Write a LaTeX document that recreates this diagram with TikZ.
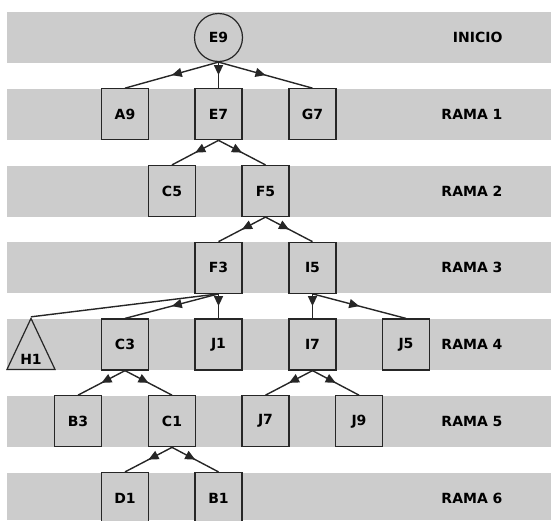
\documentclass[tikz,border=0pt]{standalone}
\usepackage{fontspec}
\setmainfont{DejaVu Sans}
\usepackage{xcolor}
\usetikzlibrary{shapes.geometric}
\usetikzlibrary{arrows.meta, decorations.markings}

\definecolor{banda}{HTML}{CCCCCC}
\definecolor{borde}{HTML}{262626}

\begin{document}
\begin{tikzpicture} [
       x=1pt, y=-1pt,
       font=\fontsize{14}{16}\selectfont\bfseries,
       estado/.style={rectangle, draw=borde, line width=1.2pt, fill=banda,
               minimum width=47pt, minimum height=51pt, inner sep=0pt},
       inicio/.style={circle, draw=borde, line width=1.2pt, fill=banda,
               minimum size=48pt, inner sep=0pt},
       hoja/.style={isosceles triangle, shape border rotate=90,
               isosceles triangle stretches, draw=borde, line width=1.2pt,
               fill=banda, minimum width=48pt, minimum height=51pt, inner sep=0pt},
       rama/.style={anchor=east},
        line/.style     = { draw=borde, line width=1.4pt, postaction={decorate},
               decoration={markings, mark=at position 0.5 with {\arrow{Triangle[length=10pt,width=9pt]}}}},
        plano/.style    = { draw=borde, line width=1.4pt},
       ]
       \useasboundingbox (0,0) rectangle (551,520);
       % bandas
       \foreach \i in {0,...,5}
          \fill[banda] (7,12+76.75*\i) rectangle (551,63+76.75*\i);
       \fill[banda] (7,472.5) rectangle (551,520);
       % nodos
       \node (e9) [inicio] at (218.5,37.5) {E9};
       \node (a9) [estado] at (125,114.25) {A9};
       \node (e7) [estado] at (218.5,114.25) {E7};
       \node (g7) [estado] at (312.5,114.25) {G7};
       \node (c5) [estado] at (172,191) {C5};
       \node (f5) [estado] at (265.5,191) {F5};
       \node (f3) [estado] at (218.5,267.75) {F3};
       \node (i5) [estado] at (312.5,267.75) {I5};
       \node (h1) [hoja, anchor=lower side] at (31,370) {H1};
       \node (c3) [estado] at (125,344.5) {C3};
       \node (j1) [estado] at (218.5,344.5) {J1};
       \node (i7) [estado] at (312.5,344.5) {I7};
       \node (j5) [estado] at (406,344.5) {J5};
       \node (b3) [estado] at (78,421.25) {B3};
       \node (c1) [estado] at (172,421.25) {C1};
       \node (j7) [estado] at (265.5,421.25) {J7};
       \node (j9) [estado] at (359,421.25) {J9};
       \node (d1) [estado] at (125,498) {D1};
       \node (b1) [estado] at (218.5,498) {B1};
       % etiquetas
       \node (r0) [rama] at (506,37.5) {INICIO};
       \node (r1) [rama] at (506,114.25) {RAMA 1};
       \node (r2) [rama] at (506,191) {RAMA 2};
       \node (r3) [rama] at (506,267.75) {RAMA 3};
       \node (r4) [rama] at (506,344.5) {RAMA 4};
       \node (r5) [rama] at (506,421.25) {RAMA 5};
       \node (r6) [rama] at (506,498) {RAMA 6};
        \path[line] (e9.south) -- (a9.north);
        \path[line] (e9.south) -- (e7.north);
        \path[line] (e9.south) -- (g7.north);
        \path[line] (e7.south) -- (c5.north);
        \path[line] (e7.south) -- (f5.north);
        \path[line] (f5.south) -- (f3.north);
        \path[line] (f5.south) -- (i5.north);
        \path[line] (f3.south) -- (c3.north);
        \path[line] (f3.south) -- (j1.north);
        \path[line] (i5.south) -- (i7.north);
        \path[line] (i5.south) -- (j5.north);
        \path[line] (c3.south) -- (b3.north);
        \path[line] (c3.south) -- (c1.north);
        \path[line] (i7.south) -- (j7.north);
        \path[line] (i7.south) -- (j9.north);
        \path[line] (c1.south) -- (d1.north);
        \path[line] (c1.south) -- (b1.north);
        \path[plano] (f3.south) -- (h1.apex);
\end{tikzpicture}
\end{document}
